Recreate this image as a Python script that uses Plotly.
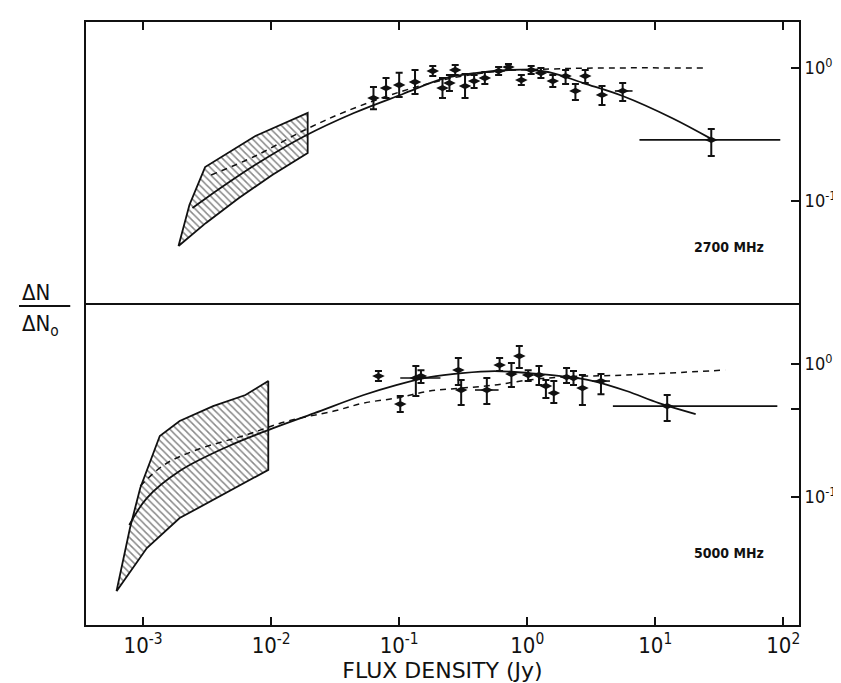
import numpy as np
import plotly.graph_objects as go

# ---------------- 2700 MHz panel (top) ----------------
s27 = [0.063, 0.079, 0.1, 0.133, 0.183, 0.218, 0.247, 0.274, 0.327, 0.385, 0.467, 0.598,
       0.714, 0.9, 1.074, 1.28, 1.585, 1.995, 2.38, 2.84, 3.84, 5.57, 27.4]
n27 = [0.594, 0.707, 0.745, 0.785, 0.95, 0.707, 0.771, 0.966, 0.732, 0.798, 0.841, 0.95,
       1.017, 0.812, 0.966, 0.917, 0.798, 0.87, 0.672, 0.87, 0.627, 0.672, 0.288]
n27_hi = [0.72, 0.84, 0.92, 0.966, 1.035, 0.84, 0.886, 1.054, 0.901, 0.886, 0.933, 1.017,
          1.072, 0.886, 1.035, 1.0, 0.886, 0.966, 0.758, 0.966, 0.732, 0.771, 0.348]
n27_lo = [0.49, 0.594, 0.605, 0.638, 0.87, 0.594, 0.672, 0.886, 0.594, 0.707, 0.758, 0.886,
          0.966, 0.745, 0.901, 0.841, 0.72, 0.758, 0.575, 0.771, 0.527, 0.565, 0.218]
# points with flux-density ranges
sx27 = [5.57, 27.4]
nx27 = [0.672, 0.288]
sx27_lo = [4.84, 7.53]
sx27_hi = [6.65, 94.8]

fit27_s = [0.00243, 0.0031, 0.00753, 0.0183, 0.0443, 0.107, 0.218, 0.391, 0.714, 1.074,
           1.585, 2.74, 5.57, 13.5, 27.4]
fit27_n = [0.0886, 0.105, 0.187, 0.308, 0.459, 0.638, 0.827, 0.917, 0.966, 0.966,
           0.917, 0.771, 0.616, 0.421, 0.293]
dash27_s = [0.0034, 0.00753, 0.0183, 0.0391, 0.107, 0.26, 0.631, 1.53, 3.71, 25.1]
dash27_n = [0.157, 0.218, 0.342, 0.475, 0.672, 0.841, 0.95, 0.983, 1.0, 1.0]
band27_s = [0.00189, 0.0023, 0.00305, 0.00753, 0.0193, 0.0193, 0.0102, 0.00557, 0.0031, 0.00189]
band27_n = [0.0459, 0.0933, 0.180, 0.308, 0.459, 0.23, 0.157, 0.105, 0.0684, 0.0459]

# ---------------- 5000 MHz panel (bottom) ----------------
s50 = [0.0689, 0.102, 0.135, 0.148, 0.29, 0.305, 0.484, 0.609, 0.753, 0.868, 1.018, 1.237,
       1.4, 1.614, 2.03, 2.3, 2.7, 3.77, 12.4]
n50 = [0.812, 0.5, 0.785, 0.812, 0.901, 0.638, 0.638, 0.983, 0.841, 1.148, 0.827, 0.827,
       0.684, 0.605, 0.798, 0.785, 0.66, 0.745, 0.483]
n50_hi = [0.886, 0.574, 0.966, 0.9, 1.11, 0.758, 0.785, 1.11, 1.017, 1.366, 0.9, 0.966,
          0.758, 0.745, 0.933, 0.886, 0.827, 0.841, 0.585]
n50_lo = [0.745, 0.436, 0.574, 0.72, 0.695, 0.492, 0.5, 0.886, 0.672, 0.933, 0.745, 0.695,
          0.555, 0.509, 0.72, 0.695, 0.492, 0.594, 0.373]
sx50 = [0.135, 0.484, 3.77, 12.4]
nx50 = [0.785, 0.638, 0.745, 0.483]
sx50_lo = [0.102, 0.391, 3.22, 4.67]
sx50_hi = [0.21, 0.598, 4.43, 89.9]

fit50_s = [0.00078, 0.00107, 0.00193, 0.00467, 0.00948, 0.0218, 0.0528, 0.0948, 0.173, 0.31,
           0.557, 1.018, 1.83, 3.28, 5.98, 10.7, 20.7]
fit50_n = [0.0616, 0.0983, 0.157, 0.242, 0.319, 0.428, 0.585, 0.695, 0.798, 0.856,
           0.886, 0.856, 0.812, 0.745, 0.627, 0.509, 0.421]
dash50_s = [0.00095, 0.00145, 0.0026, 0.0063, 0.0135, 0.031, 0.0528, 0.0948, 0.173, 0.31,
            0.557, 1.018, 1.83, 5.98, 35.2]
dash50_n = [0.121, 0.174, 0.226, 0.292, 0.373, 0.443, 0.509, 0.555, 0.627, 0.66,
            0.695, 0.758, 0.798, 0.827, 0.901]
band50_s = [0.00062, 0.00079, 0.00095, 0.00135, 0.00193, 0.00352, 0.0063, 0.0095,
            0.0095, 0.00467, 0.00193, 0.00107, 0.00062]
band50_n = [0.0196, 0.0585, 0.117, 0.288, 0.373, 0.483, 0.585, 0.745,
            0.16, 0.111, 0.0695, 0.0414, 0.0196]

xtick_vals = [1e-3, 1e-2, 1e-1, 1e0, 1e1, 1e2]
xtick_text = ["10<sup>-3</sup>", "10<sup>-2</sup>", "10<sup>-1</sup>",
              "10<sup>0</sup>", "10<sup>1</sup>", "10<sup>2</sup>"]
ytick_vals = [0.1, 1.0]
ytick_text = ["10<sup>-1</sup>", "10<sup>0</sup>"]

FONT = "DejaVu Sans Condensed, Liberation Sans Narrow, DejaVu Sans, sans-serif"
BLACK = "#111111"

fig = go.Figure()


def add_panel(xa, ya, band_s, band_n, fit_s, fit_n, dash_s, dash_n,
              s, n, hi, lo, sx, nx, sxlo, sxhi):
    fig.add_trace(go.Scatter(
        x=band_s, y=band_n, xaxis=xa, yaxis=ya, mode="lines", fill="toself",
        fillcolor="white",
        fillpattern=dict(shape="\\", size=5, solidity=0.3, fgcolor=BLACK, bgcolor="white"),
        line=dict(color=BLACK, width=1.8), hoverinfo="skip", showlegend=False))
    fig.add_trace(go.Scatter(
        x=fit_s, y=fit_n, xaxis=xa, yaxis=ya, mode="lines",
        line=dict(color=BLACK, width=1.8, shape="spline"), showlegend=False))
    fig.add_trace(go.Scatter(
        x=dash_s, y=dash_n, xaxis=xa, yaxis=ya, mode="lines",
        line=dict(color=BLACK, width=1.5, dash="6px,5px", shape="spline"), showlegend=False))
    s = np.array(s); n = np.array(n); hi = np.array(hi); lo = np.array(lo)
    fig.add_trace(go.Scatter(
        x=sx, y=nx, xaxis=xa, yaxis=ya, mode="markers",
        marker=dict(size=1, color=BLACK),
        error_x=dict(type="data", symmetric=False,
                     array=np.array(sxhi) - np.array(sx),
                     arrayminus=np.array(sx) - np.array(sxlo),
                     color=BLACK, thickness=1.6, width=0),
        showlegend=False))
    fig.add_trace(go.Scatter(
        x=s, y=n, xaxis=xa, yaxis=ya, mode="markers",
        marker=dict(symbol="diamond-wide", size=9, color=BLACK),
        error_y=dict(type="data", symmetric=False, array=hi - n, arrayminus=n - lo,
                     color=BLACK, thickness=2, width=3.5),
        showlegend=False))


add_panel("x2", "y2", band27_s, band27_n, fit27_s, fit27_n, dash27_s, dash27_n,
          s27, n27, n27_hi, n27_lo, sx27, nx27, sx27_lo, sx27_hi)
add_panel("x", "y", band50_s, band50_n, fit50_s, fit50_n, dash50_s, dash50_n,
          s50, n50, n50_hi, n50_lo, sx50, nx50, sx50_lo, sx50_hi)

xrange = [-3.446, 2.123]
split = 322 / 603
axis_common = dict(showgrid=False, zeroline=False, showline=True, linecolor=BLACK,
                   linewidth=2, ticks="inside", tickcolor=BLACK, tickwidth=2,
                   ticklen=8)

fig.update_layout(
    width=841, height=683,
    margin=dict(l=78, r=39, t=14, b=66),
    paper_bgcolor="white", plot_bgcolor="white",
    font=dict(family=FONT, color=BLACK),
    xaxis=dict(type="log", range=xrange, domain=[0, 1], anchor="y", mirror=False,
               tickvals=xtick_vals, ticktext=xtick_text,
               tickfont=dict(size=22, family=FONT),
               title=dict(text="FLUX DENSITY (Jy)",
                          font=dict(size=22, family="DejaVu Sans, sans-serif"), standoff=0),
               **axis_common),
    yaxis=dict(type="log", range=[-1.962, 0.459], domain=[0, split], anchor="x",
               side="right", mirror=True, tickvals=ytick_vals + [0.46], ticktext=ytick_text + [""],
               tickfont=dict(size=18, family=FONT), **axis_common),
    xaxis2=dict(type="log", range=xrange, domain=[0, 1], anchor="y2", side="top", mirror=True,
                tickvals=xtick_vals, showticklabels=False, matches="x", **axis_common),
    yaxis2=dict(type="log", range=[-1.767, 0.346], domain=[split, 1], anchor="x2",
                side="right", mirror=True, tickvals=ytick_vals, ticktext=ytick_text,
                tickfont=dict(size=18, family=FONT), **axis_common),
)


def px_x(p):
    return (p - 78) / 724


def px_y(p):
    return (617 - p) / 603


fig.add_annotation(x=px_x(768), y=px_y(239), xref="paper", yref="paper", xanchor="right",
                   yanchor="middle", showarrow=False, text="<b>2700 MHz</b>",
                   font=dict(size=14, family=FONT, color=BLACK))
fig.add_annotation(x=px_x(768), y=px_y(545), xref="paper", yref="paper", xanchor="right",
                   yanchor="middle", showarrow=False, text="<b>5000 MHz</b>",
                   font=dict(size=14, family=FONT, color=BLACK))
fig.add_annotation(x=px_x(11), y=px_y(285), xref="paper", yref="paper", xanchor="left",
                   yanchor="middle", showarrow=False, text="ΔN",
                   font=dict(size=22, family=FONT, color=BLACK))
fig.add_annotation(x=px_x(11), y=px_y(318), xref="paper", yref="paper", xanchor="left",
                   yanchor="middle", showarrow=False, text="ΔN<sub>o</sub>",
                   font=dict(size=22, family=FONT, color=BLACK))
fig.add_shape(type="line", xref="paper", yref="paper", x0=px_x(10), x1=px_x(62),
              y0=px_y(298), y1=px_y(298), line=dict(color=BLACK, width=2))

fig.write_html("out.html")
